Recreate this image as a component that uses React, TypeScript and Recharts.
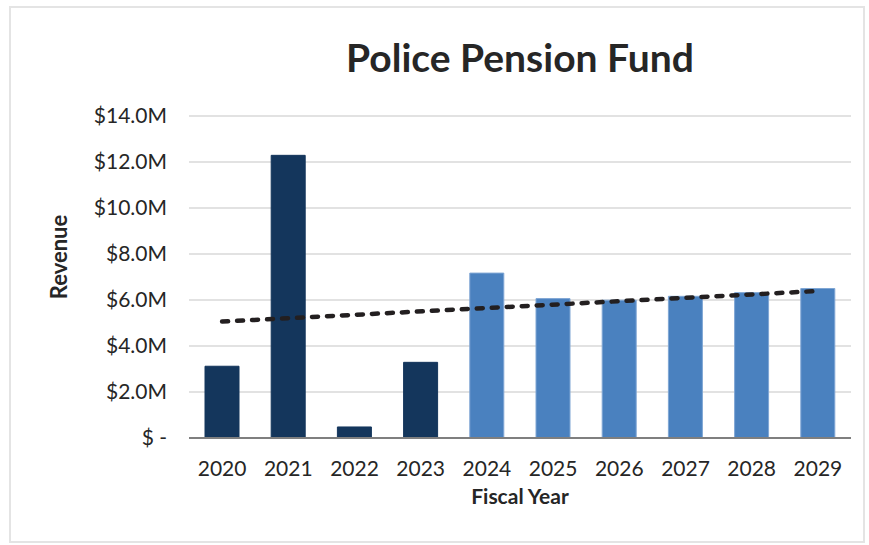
import { Bar, Cell, ComposedChart, Line, XAxis, YAxis, CartesianGrid, Label } from "recharts";

const years = ["2020", "2021", "2022", "2023", "2024", "2025", "2026", "2027", "2028", "2029"];
const revenue = [3.12, 12.29, 0.48, 3.29, 7.17, 6.06, 5.99, 6.16, 6.32, 6.5];
const status = ["actual", "actual", "actual", "actual", "projected", "projected", "projected", "projected", "projected", "projected"];
// linear trend, read at the two ends
const trend = [5.06, null, null, null, null, null, null, null, null, 6.39];
const yTicks = [0, 2, 4, 6, 8, 10, 12, 14];

const FONT = "Lato, 'Open Sans', sans-serif";
const TEXT = "#262626";

const data = years.map((year, i) => ({
  year,
  revenue: revenue[i],
  status: status[i],
  trend: trend[i]
}));

const fmtMoney = (v: number) => (v === 0 ? "$ -" : `$${v.toFixed(1)}M`);

export default function App() {
  return (
    <div style={{ position: "absolute", left: 0, top: 0, width: 869, height: 545, background: "#fff", fontFamily: FONT }}>
      <div
        style={{
          position: "absolute",
          left: 189,
          width: 662,
          top: 33,
          textAlign: "center",
          fontSize: 39,
          fontWeight: 700,
          color: TEXT,
          lineHeight: "48px"
        }}
      >
        Police Pension Fund
      </div>
      <div style={{ position: "absolute", left: 0, top: 0 }}>
        <ComposedChart width={869} height={545} data={data} margin={{ top: 116, right: 18, bottom: 0, left: 0 }}>
          <CartesianGrid vertical={false} stroke="#d9d9d9" strokeWidth={1.5} />
          <XAxis
            dataKey="year"
            axisLine={{ stroke: "#7f7f7f", strokeWidth: 2 }}
            tickLine={false}
            tick={{ fill: TEXT, fontSize: 21, fontFamily: FONT }}
            tickMargin={17}
            height={107}
          >
            <Label value="Fiscal Year" position="insideTop" offset={51} style={{ fill: TEXT, fontSize: 21, fontWeight: 700, fontFamily: FONT }} />
          </XAxis>
          <YAxis
            domain={[0, 14]}
            ticks={yTicks}
            tickFormatter={fmtMoney}
            axisLine={false}
            tickLine={false}
            tickMargin={16}
            width={189}
            tick={{ fill: TEXT, fontSize: 21, fontFamily: FONT }}
          >
            <Label
              value="Revenue"
              angle={-90}
              position="insideLeft"
              offset={59}
              dy={-20}
              style={{ fill: TEXT, fontSize: 22, fontWeight: 700, fontFamily: FONT, textAnchor: "middle" }}
            />
          </YAxis>
          <Bar dataKey="revenue" barSize={34} isAnimationActive={false}>
            {data.map((d) => (
              <Cell
                key={d.year}
                fill={d.status === "actual" ? "#14365c" : "#4a81bf"}
                stroke={d.status === "actual" ? "#14365c" : "#7fa6d4"}
                strokeWidth={1}
              />
            ))}
          </Bar>
          <Line
            dataKey="trend"
            connectNulls
            stroke="#231f20"
            strokeWidth={4.5}
            strokeDasharray="6 9"
            strokeLinecap="round"
            dot={false}
            activeDot={false}
            isAnimationActive={false}
          />
        </ComposedChart>
      </div>
      <svg width={869} height={545} style={{ position: "absolute", left: 0, top: 0, pointerEvents: "none" }}>
        <rect x={10} y={7} width={854} height={535} fill="none" stroke="#e4e4e4" strokeWidth={2} />
      </svg>
    </div>
  );
}
